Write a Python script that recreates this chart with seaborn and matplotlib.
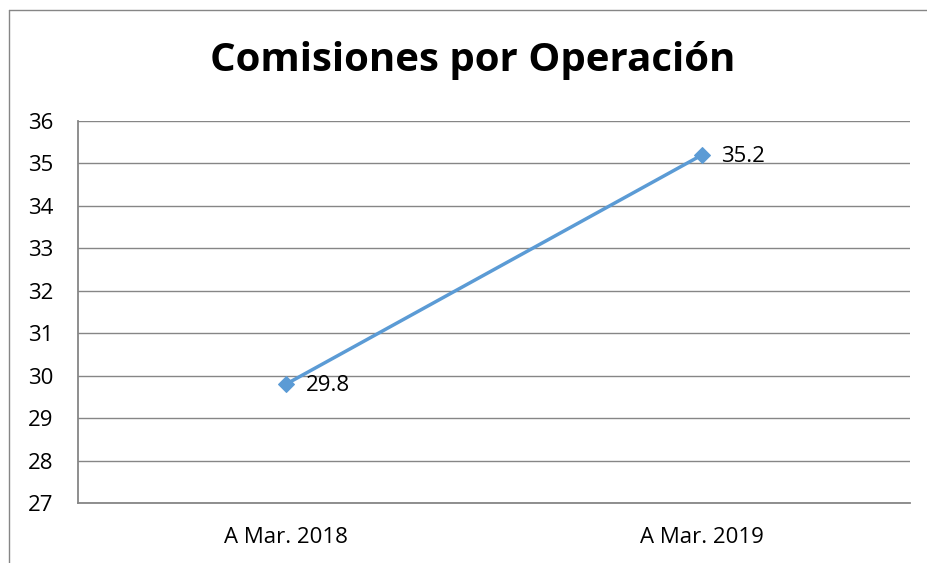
import numpy as np
import matplotlib
matplotlib.use("Agg")
import matplotlib.pyplot as plt
import seaborn as sns
import pandas as pd
from matplotlib.lines import Line2D

periodos = ["A Mar. 2018", "A Mar. 2019"]
comisiones = [29.8, 35.2]
etiquetas = ["29.8", "35.2"]

sns.set_theme(style="white")
plt.rcParams['font.family'] = ['Open Sans', 'DejaVu Sans']

df = pd.DataFrame({"periodo": periodos, "comision": comisiones})

fig = plt.figure(figsize=(9.27, 5.63), dpi=100)
ax = fig.add_axes([78 / 927, 60 / 563, 832 / 927, 382 / 563])

color = "#5B9BD5"
sns.lineplot(data=df, x="periodo", y="comision", ax=ax, color=color,
             linewidth=2.5, marker="D", markersize=8, markeredgecolor=color,
             sort=False)

for i, (v, t) in enumerate(zip(comisiones, etiquetas)):
    ax.annotate(t, (i, v), xytext=(14, -1), textcoords="offset points",
                ha="left", va="center", fontsize=16, color="black")

ax.set_xlim(-0.5, 1.5)
ax.set_ylim(27, 36)
ax.set_yticks(np.arange(27, 37, 1))
ax.yaxis.grid(True, color="#868686", linewidth=1)
ax.set_axisbelow(True)
ax.set_xlabel("")
ax.set_ylabel("")
ax.tick_params(axis="both", labelsize=16, length=0, colors="black")
ax.tick_params(axis="y", pad=18)
ax.tick_params(axis="x", pad=17)

for side in ["top", "right"]:
    ax.spines[side].set_visible(False)
for side in ["left", "bottom"]:
    ax.spines[side].set_color("#868686")
    ax.spines[side].set_linewidth(1.3)

fig.suptitle("Comisiones por Operación", x=473 / 927, y=1 - 60 / 563,
             va="center", fontsize=29, fontweight="bold", color="black")

# marco exterior (solo se ve borde izquierdo y superior)
fig.add_artist(Line2D([8.5 / 927, 8.5 / 927], [0, 1 - 9.5 / 563],
                      transform=fig.transFigure, color="#868686", linewidth=1))
fig.add_artist(Line2D([8.5 / 927, 1], [1 - 9.5 / 563, 1 - 9.5 / 563],
                      transform=fig.transFigure, color="#868686", linewidth=1))

fig.savefig("out.png", dpi=100)
